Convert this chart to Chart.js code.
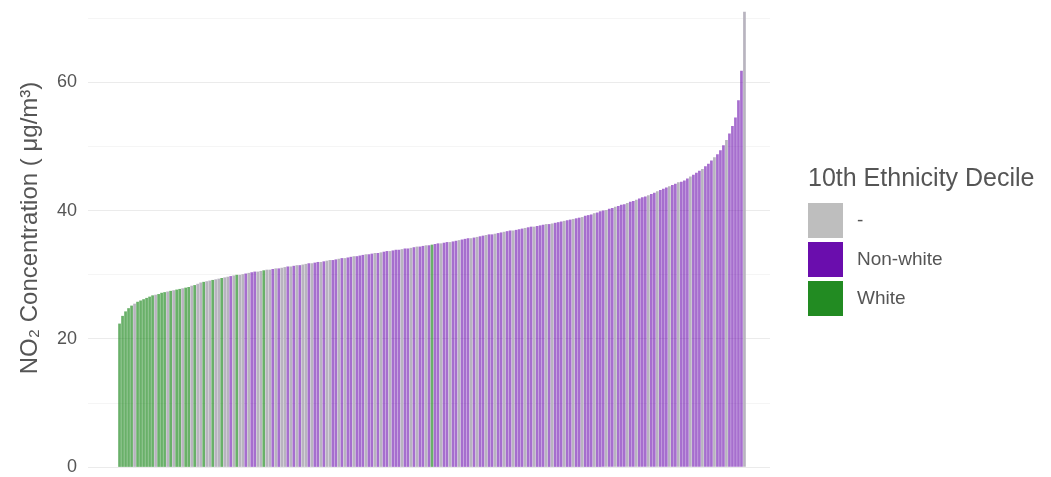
<!DOCTYPE html>
<html>
<head>
<meta charset="utf-8">
<script src="https://cdn.jsdelivr.net/npm/chart.js@4.4.1/dist/chart.umd.min.js"></script>
<style>
  html, body { margin: 0; padding: 0; background: #ffffff; }
  #wrap { width: 1051px; height: 477px; position: relative; }
</style>
</head>
<body>
<div id="wrap"><canvas id="no2Chart" width="1051" height="477"></canvas></div>
<script>
// NO2 concentration per area, sorted ascending (µg/m³)
const no2Values = [
  22.4, 23.6, 24.3, 24.8, 25.2, 25.5, 25.8, 26.0, 26.2, 26.4,
  26.6, 26.8, 26.9, 27.0, 27.2, 27.3, 27.4, 27.5, 27.6, 27.7,
  27.8, 27.9, 28.0, 28.1, 28.3, 28.4, 28.6, 28.8, 28.9, 29.0,
  29.1, 29.2, 29.3, 29.4, 29.5, 29.6, 29.7, 29.8, 29.9, 30.0,
  30.0, 30.1, 30.2, 30.3, 30.4, 30.5, 30.5, 30.6, 30.7, 30.8,
  30.8, 30.9, 31.0, 31.0, 31.1, 31.2, 31.3, 31.3, 31.4, 31.5,
  31.5, 31.6, 31.7, 31.8, 31.8, 31.9, 32.0, 32.0, 32.1, 32.2,
  32.3, 32.3, 32.4, 32.5, 32.6, 32.6, 32.7, 32.8, 32.9, 32.9,
  33.0, 33.1, 33.2, 33.2, 33.3, 33.4, 33.4, 33.5, 33.6, 33.7,
  33.7, 33.8, 33.9, 33.9, 34.0, 34.1, 34.1, 34.2, 34.3, 34.4,
  34.4, 34.5, 34.6, 34.6, 34.7, 34.8, 34.9, 34.9, 35.0, 35.1,
  35.1, 35.2, 35.3, 35.4, 35.5, 35.6, 35.7, 35.7, 35.8, 35.9,
  36.0, 36.1, 36.2, 36.3, 36.3, 36.4, 36.5, 36.6, 36.7, 36.8,
  36.9, 36.9, 37.0, 37.1, 37.2, 37.3, 37.4, 37.5, 37.5, 37.6,
  37.7, 37.8, 37.9, 37.9, 38.0, 38.1, 38.2, 38.3, 38.4, 38.5,
  38.6, 38.7, 38.8, 38.9, 39.0, 39.2, 39.3, 39.4, 39.6, 39.7,
  39.9, 40.0, 40.1, 40.3, 40.4, 40.6, 40.7, 40.9, 41.0, 41.2,
  41.4, 41.5, 41.7, 41.9, 42.1, 42.2, 42.4, 42.6, 42.8, 43.0,
  43.2, 43.4, 43.6, 43.8, 44.0, 44.2, 44.4, 44.5, 44.7, 45.0,
  45.3, 45.6, 45.9, 46.2, 46.5, 46.9, 47.3, 47.8, 48.3, 48.8,
  49.4, 50.2, 51.0, 52.0, 53.2, 54.5, 57.2, 61.8, 71.0
];

// Ethnicity group of each area, same order: G = "-", P = "Non-white", W = "White"
const groupCodes = [
  "WWWWWGWWWW", "WWGWWWGWGW", "WGWWGWGGWG", "GWGGWGGPGW", "GGPGPPGGWG",
  "GPGPGGPGPG", "PGGPGPPGPG", "GPPGPGPPGP", "PPGPPGPGPP", "GPPPGPPGPG",
  "PPGPWPPGPP", "GPPGPPPGPG", "PPGPPGPPGP", "PGPPPGPPGP", "PPGPGPPPGP",
  "PGPPGPPPGP", "PPGPPGPPPG", "PPGPPPGPPG", "PPPGPPGPPP", "GPPPGPPPGP",
  "PPGPPPPPG"
].join("").split("");

const groupKeys = ["G", "P", "W"];
const groupLabels = ["-", "Non-white", "White"];
const legendTitle = "10th Ethnicity Decile";
const yAxisTitle = "NO\u2082 Concentration ( \u03BCg/m\u00B3)";
const yTickValues = [0, 10, 20, 30, 40, 50, 60, 70];
const yTickLabels = ["0", "", "20", "", "40", "", "60", ""];

// Colours
const swatchColors = { G: "#bebebe", P: "#6a0dad", W: "#228b22" };
const barColors = { G: "rgba(180,176,188,0.95)", P: "rgba(106,13,173,0.6)", W: "rgba(34,139,34,0.68)" };
const textColor = "#555555";
const fontStack = '"Liberation Sans", Arial, Helvetica, sans-serif';

const decileLegend = {
  id: "decileLegend",
  afterDraw(chart) {
    const ctx = chart.ctx;
    ctx.save();
    // legend title
    ctx.fillStyle = textColor;
    ctx.textAlign = "left";
    ctx.textBaseline = "alphabetic";
    ctx.font = "25px " + fontStack;
    ctx.fillText(legendTitle, 808, 186);
    // legend keys
    groupKeys.forEach((key, k) => {
      const top = 203 + k * 39;
      ctx.fillStyle = swatchColors[key];
      ctx.fillRect(808, top, 35, 35);
      ctx.fillStyle = textColor;
      ctx.font = "19px " + fontStack;
      ctx.textBaseline = "middle";
      ctx.fillText(groupLabels[k], 857, top + 18);
    });
    // y axis title
    ctx.translate(30, 228);
    ctx.rotate(-Math.PI / 2);
    ctx.textAlign = "center";
    ctx.textBaseline = "middle";
    ctx.font = "24px " + fontStack;
    ctx.fillStyle = textColor;
    ctx.fillText(yAxisTitle, 0, 0);
    ctx.restore();
  }
};

new Chart(document.getElementById("no2Chart"), {
  type: "bar",
  data: {
    datasets: [{
      label: "NO2",
      data: no2Values.map((v, i) => ({ x: i, y: v })),
      backgroundColor: groupCodes.map(c => barColors[c]),
      borderWidth: 0,
      barPercentage: 0.9,
      categoryPercentage: 1.0
    }]
  },
  options: {
    responsive: false,
    animation: false,
    devicePixelRatio: 1,
    layout: { padding: { left: 0, right: 281, top: 2, bottom: 0 } },
    plugins: { legend: { display: false }, tooltip: { enabled: false } },
    scales: {
      x: {
        type: "linear",
        offset: false,
        min: -10.5,
        max: 216.5,
        display: false
      },
      y: {
        min: -1.5,
        max: 72.5,
        afterBuildTicks: axis => { axis.ticks = yTickValues.map(v => ({ value: v })); },
        afterFit: axis => { axis.width = 88; axis.paddingTop = 0; axis.paddingBottom = 0; },
        border: { display: false },
        grid: {
          drawTicks: false,
          color: c => (c.tick && c.tick.value % 20 === 0) ? "#ebebeb" : "#f5f5f5",
          lineWidth: 1
        },
        ticks: {
          padding: 11,
          color: textColor,
          font: { family: fontStack, size: 18 },
          callback: (v) => yTickLabels[yTickValues.indexOf(v)] ?? ""
        }
      }
    }
  },
  plugins: [decileLegend]
});
</script>
</body>
</html>
